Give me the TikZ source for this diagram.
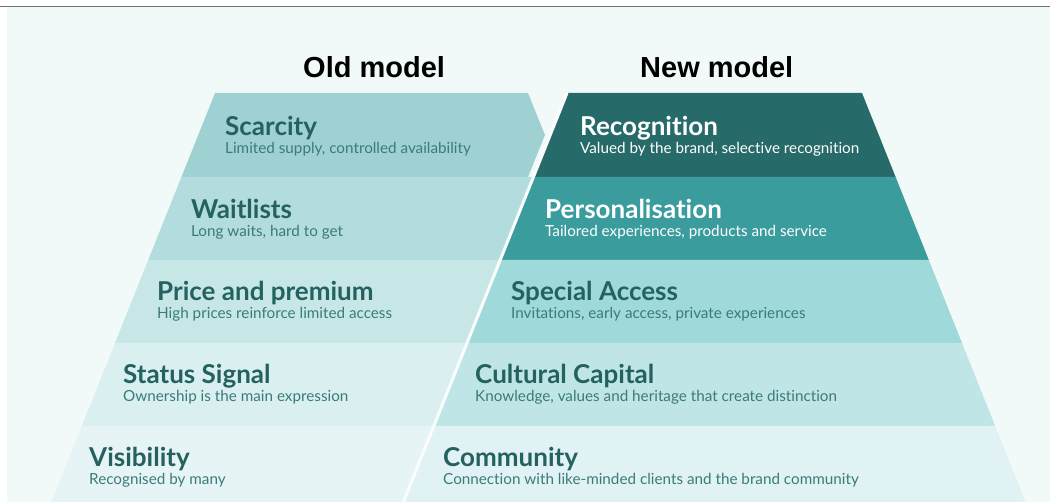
\documentclass[tikz,border=0pt]{standalone}
\usepackage{fontspec}
\setmainfont{Lato}[Ligatures=NoCommon]
\newfontfamily\headfont{Liberation Sans}
\definecolor{pagebg}{HTML}{F2FAF9}
\definecolor{rulegray}{HTML}{707070}
\definecolor{oldA}{HTML}{A0D1D2}
\definecolor{oldB}{HTML}{B2DCDD}
\definecolor{oldC}{HTML}{C7E7E7}
\definecolor{oldD}{HTML}{D9EFF0}
\definecolor{oldE}{HTML}{E6F4F5}
\definecolor{newA}{HTML}{266B69}
\definecolor{newB}{HTML}{3A9C9C}
\definecolor{newC}{HTML}{A0D9DA}
\definecolor{newD}{HTML}{C0E5E7}
\definecolor{newE}{HTML}{E0F2F4}
\definecolor{titleteal}{HTML}{24625F}
\definecolor{subteal}{HTML}{3A7C79}
\begin{document}
\begin{tikzpicture}[x=1pt,y=-1pt,
  heading/.style={anchor=base west, inner sep=0pt, font=\headfont\bfseries\fontsize{29}{32}\selectfont, text=black},
  tier/.style={anchor=base west, inner sep=0pt, font=\bfseries\fontsize{26}{29}\selectfont, text=titleteal},
  tiersub/.style={anchor=base west, inner sep=0pt, font=\fontsize{15.25}{18}\selectfont, text=subteal},
  ontop/.style={text=white}]
\useasboundingbox (0,0) rectangle (1050,502);
% page
\fill[white] (0,0) rectangle (1050,502);
\fill[pagebg] (7,7) rectangle (1050,502);
\draw[rulegray, line width=1.5pt] (0,6.5) -- (1050,6.5);

% old model: slanted stack, top tier ends in a chevron
\fill[oldA] (215,93) -- (528,93) -- (545,135) -- (528,177) -- (181.4,177) -- cycle;
\foreach \t/\b/\c in {177/260/oldB,260/343/oldC,343/426/oldD,426/502/oldE}
  \fill[\c] ({215-0.4*(\t-93)},\t) -- (700,\t) -- (700,\b) -- ({215-0.4*(\b-93)},\b) -- cycle;

% new model: trapezoid stack
\foreach \t/\b/\c in {93/177/newA,177/260/newB,260/343/newC,343/426/newD,426/502/newE}
  \fill[\c] ({568-0.4*(\t-93)},\t) -- ({862+0.4*(\t-93)},\t) -- ({862+0.4*(\b-93)},\b) -- ({568-0.4*(\b-93)},\b) -- cycle;
% light gap between the two stacks
\draw[white!70!pagebg, line width=3pt] (567,93) -- ({567-0.4*(512-93)},512);

% headings
\node[heading] (hold) at (303,78) {Old model};
\node[heading] (hnew) at (640,78) {New model};

% old model labels
\node[tier] (o1) at (225,135.5) {Scarcity};
\node[tiersub] (o1s) at (225,153.5) {Limited supply, controlled availability};
\node[tier] (o2) at (191,218.5) {Waitlists};
\node[tiersub] (o2s) at (191,236.5) {Long waits, hard to get};
\node[tier] (o3) at (157,300.5) {Price and premium};
\node[tiersub] (o3s) at (157,318.5) {High prices reinforce limited access};
\node[tier] (o4) at (123,383.5) {Status Signal};
\node[tiersub] (o4s) at (123,401.5) {Ownership is the main expression};
\node[tier] (o5) at (89,466.5) {Visibility};
\node[tiersub] (o5s) at (89,484.5) {Recognised by many};

% new model labels
\node[tier, ontop] (n1) at (580,135.5) {Recognition};
\node[tiersub, ontop] (n1s) at (580,153.5) {Valued by the brand, selective recognition};
\node[tier, ontop] (n2) at (545,218.5) {Personalisation};
\node[tiersub, ontop] (n2s) at (545,236.5) {Tailored experiences, products and service};
\node[tier] (n3) at (511,300.5) {Special Access};
\node[tiersub] (n3s) at (511,318.5) {Invitations, early access, private experiences};
\node[tier] (n4) at (475,383.5) {Cultural Capital};
\node[tiersub] (n4s) at (475,401.5) {Knowledge, values and heritage that create distinction};
\node[tier] (n5) at (443,466.5) {Community};
\node[tiersub] (n5s) at (443,484.5) {Connection with like-minded clients and the brand community};
\end{tikzpicture}
\end{document}
